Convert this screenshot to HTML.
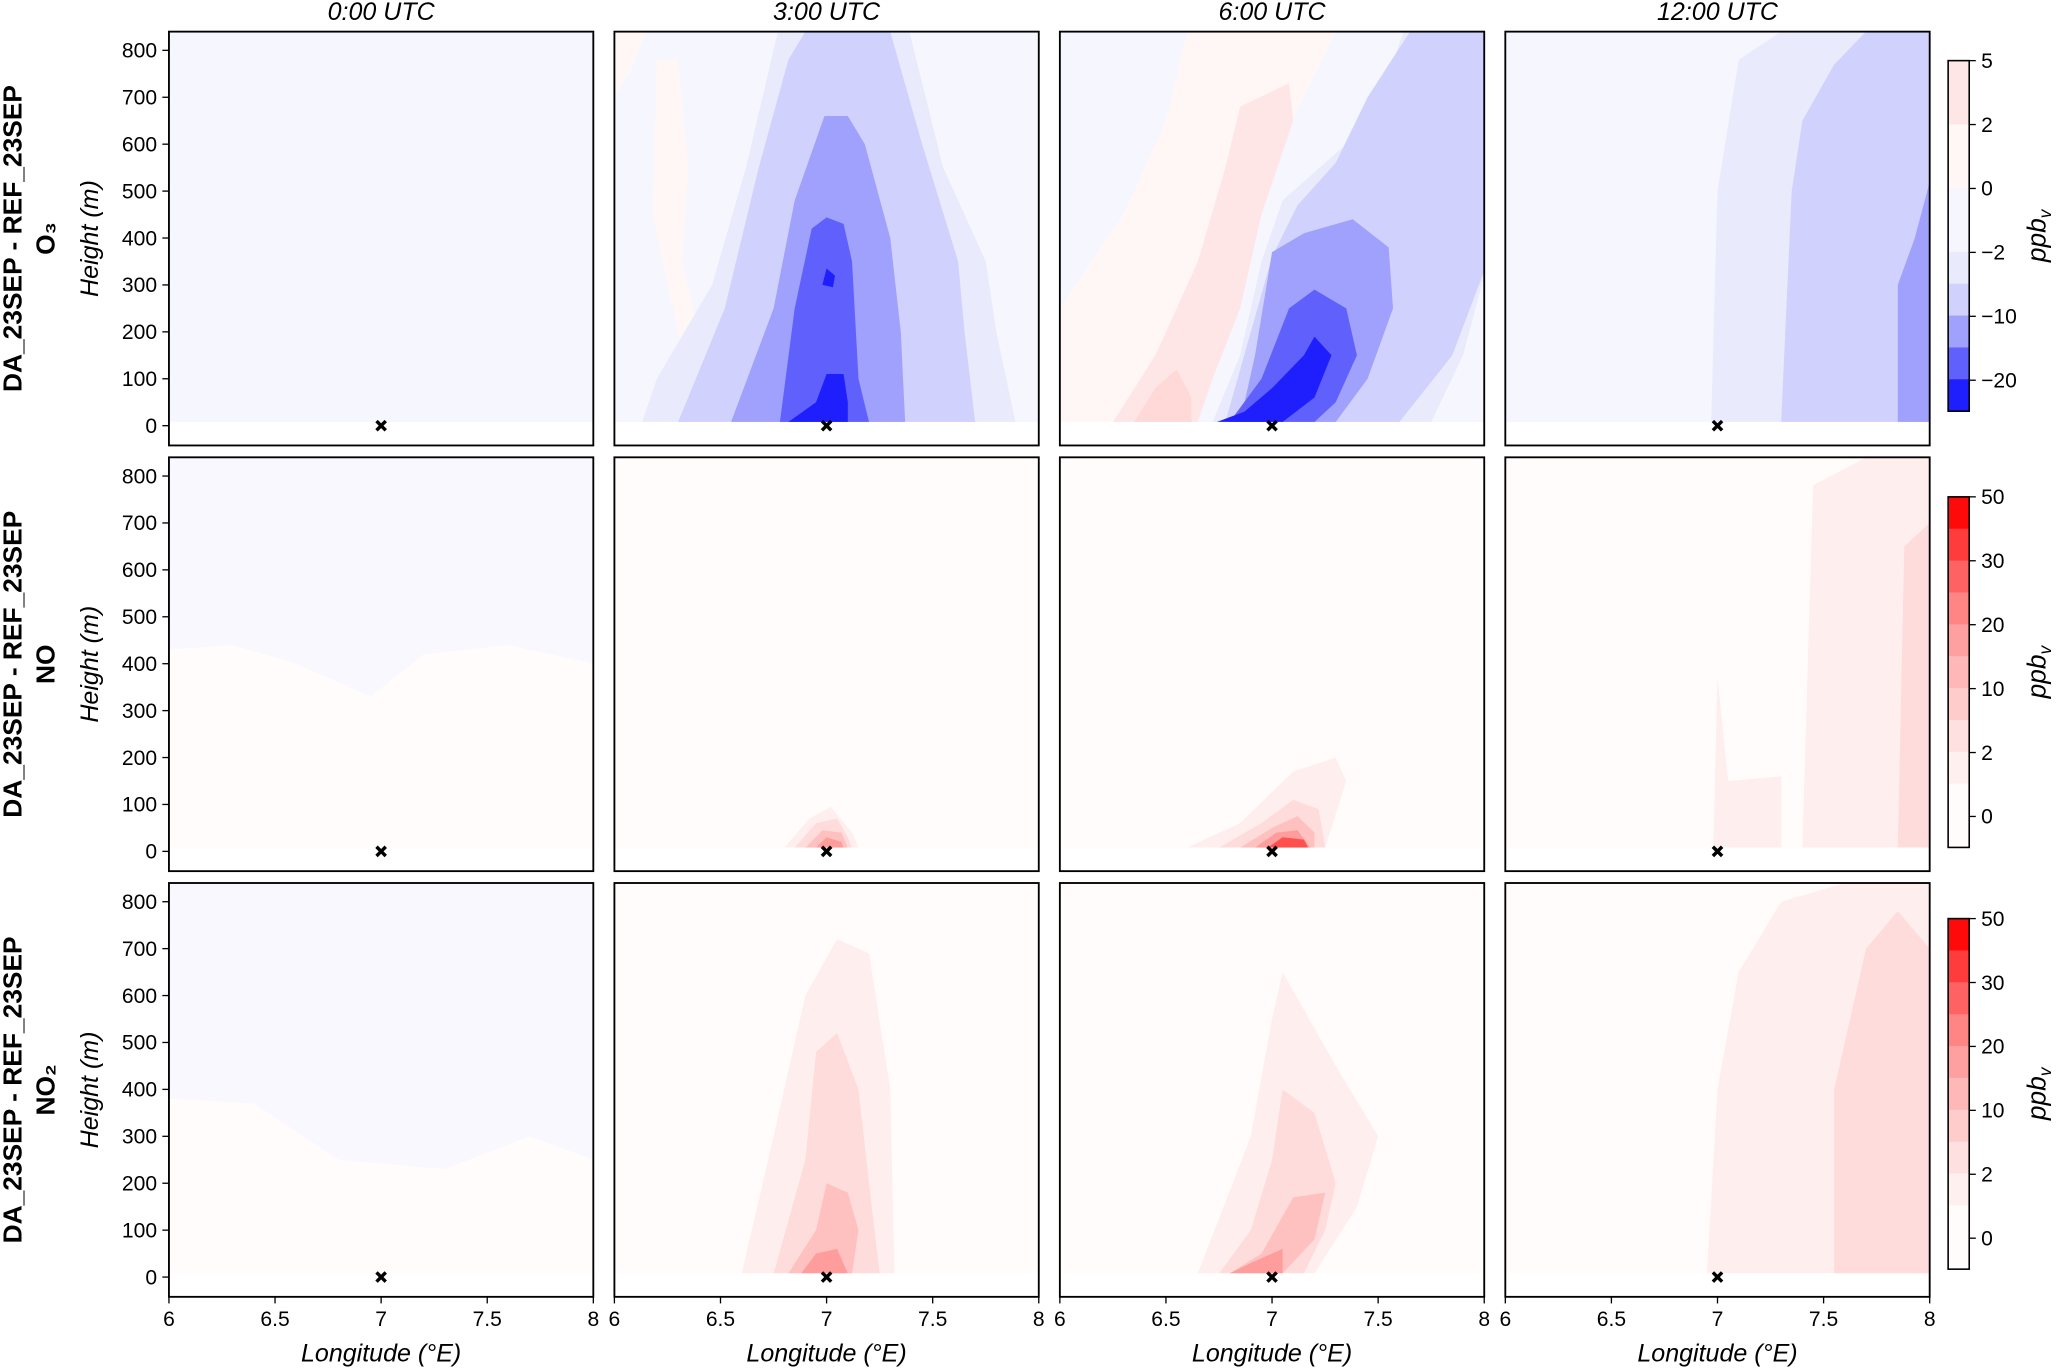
<!DOCTYPE html>
<html><head><meta charset="utf-8"><style>
html,body{margin:0;padding:0;background:#fff;}
svg{display:block;font-family:"Liberation Sans",sans-serif;}
</style></head><body>
<svg id="fig" width="2067" height="1368" viewBox="0 0 1568 1038" xmlns="http://www.w3.org/2000/svg"></svg>
<script>
// ---- data ----
const colTitles = ["0:00 UTC","3:00 UTC","6:00 UTC","12:00 UTC"];
const rowSpecies = ["O₃","NO","NO₂"];
const yTicks = [0,100,200,300,400,500,600,700,800];
const xTicks = [6,6.5,7,7.5,8];
const sitesLon = [7,7,7,7];
const blueColors = ["#f6f6fe","#eaeafd","#d1d1fd","#a0a0fd","#6060fd","#1f1ffd","#fff6f6","#ffe6e6","#ffd8d8"];
const redColors = ["#fffcfb","#ffeeee","#ffdcdc","#ffc0c0","#ff9c9c","#ff5050","#f8f8fe"];
const cb1Ticks = ["5","2","0","−2","−10","−20"];
const cb23Ticks = ["50","30","20","10","2","0"];
// contours per panel: [colorIndex, [[lon,height],...]]
const panels = [
 // row 0 (O3)
 [[], 
  [[6,[[6,840],[6,700],[6.08,760],[6.15,840]]],
   [6,[[6.2,780],[6.3,780],[6.35,550],[6.32,350],[6.45,100],[6.35,100],[6.25,300],[6.18,450]]],
   [1,[[6.13,8],[6.2,100],[6.46,300],[6.62,550],[6.77,840],[7.39,840],[7.55,550],[7.75,350],[7.8,200],[7.89,8]]],
   [2,[[6.3,8],[6.52,250],[6.68,550],[6.82,780],[6.9,840],[7.3,840],[7.45,600],[7.62,350],[7.65,200],[7.7,8]]],
   [3,[[6.55,8],[6.75,250],[6.85,480],[6.99,660],[7.1,660],[7.18,600],[7.3,400],[7.35,200],[7.37,8]]],
   [4,[[6.78,8],[6.85,250],[6.93,420],[7.0,444],[7.08,430],[7.12,350],[7.15,100],[7.2,8]]],
   [5,[[6.98,300],[7.03,295],[7.04,320],[7.0,335]]],
   [5,[[6.82,8],[6.95,50],[7.0,110],[7.08,110],[7.1,50],[7.1,8]]]],
  [[6,[[6,8],[6,250],[6.3,450],[6.5,650],[6.6,840],[7.3,840],[7.15,700],[7.0,560],[6.85,400],[6.75,200],[6.65,8]]],
   [0,[[6,330],[6,780],[6.15,810],[6.35,760],[6.35,650],[6.25,500],[6.1,380]]],
   [7,[[6.25,8],[6.45,150],[6.65,350],[6.78,550],[6.85,680],[7.08,730],[7.1,650],[6.95,450],[6.85,250],[6.72,100],[6.65,8]]],
   [8,[[6.35,8],[6.45,80],[6.55,120],[6.62,60],[6.62,8]]],
   [1,[[6.72,8],[6.85,150],[6.95,350],[7.05,480],[7.35,600],[7.55,750],[7.62,840],[8,840],[8,320],[7.9,150],[7.75,8]]],
   [2,[[6.78,8],[6.9,200],[7.0,360],[7.12,470],[7.3,560],[7.45,700],[7.65,840],[8,840],[8,330],[7.85,150],[7.6,8]]],
   [3,[[6.85,8],[6.92,150],[7.0,370],[7.15,410],[7.38,440],[7.55,380],[7.57,250],[7.45,100],[7.3,8]]],
   [4,[[6.8,8],[6.95,100],[7.08,250],[7.2,290],[7.35,250],[7.4,150],[7.3,50],[7.2,8]]],
   [5,[[6.74,8],[6.87,30],[7.0,80],[7.15,150],[7.2,190],[7.28,150],[7.2,60],[7.05,8]]]],
  [[1,[[6.97,8],[7.0,500],[7.1,780],[7.3,840],[8,840],[8,8]]],
   [2,[[7.3,8],[7.35,500],[7.4,650],[7.55,770],[7.7,840],[8,840],[8,8]]],
   [3,[[7.85,8],[7.85,300],[7.93,400],[8,520],[8,8]]]]],
 // row 1 (NO)
 [[[6,[[6,430],[6.3,440],[6.6,400],[6.95,330],[7.2,420],[7.6,440],[8,400],[8,840],[6,840]]]],
  [[1,[[6.8,8],[6.92,70],[7.02,95],[7.12,40],[7.15,8]]],
   [2,[[6.85,8],[6.95,60],[7.05,70],[7.1,30],[7.12,8]]],
   [3,[[6.9,8],[6.98,45],[7.07,40],[7.1,8]]],
   [4,[[6.95,8],[7.0,30],[7.07,20],[7.08,8]]]],
  [[1,[[6.6,8],[6.85,60],[7.1,170],[7.3,200],[7.35,150],[7.25,8]]],
   [2,[[6.75,8],[6.95,60],[7.1,110],[7.22,90],[7.25,8]]],
   [3,[[6.85,8],[7.0,50],[7.12,75],[7.2,40],[7.2,8]]],
   [4,[[6.92,8],[7.02,40],[7.12,45],[7.18,8]]],
   [5,[[6.98,8],[7.05,30],[7.15,25],[7.17,8]]]],
  [[1,[[6.98,8],[7.0,370],[7.05,150],[7.3,160],[7.3,8]]],
   [1,[[7.4,8],[7.45,780],[7.7,840],[8,840],[8,8]]],
   [2,[[7.85,8],[7.88,650],[8,700],[8,8]]]]],
 // row 2 (NO2)
 [[[6,[[6,380],[6.4,370],[6.8,250],[7.3,230],[7.7,300],[8,250],[8,840],[6,840]]]],
  [[1,[[6.6,8],[6.75,300],[6.9,600],[7.05,720],[7.2,690],[7.3,400],[7.32,8]]],
   [2,[[6.75,8],[6.9,250],[6.95,480],[7.05,520],[7.15,400],[7.2,200],[7.25,8]]],
   [3,[[6.82,8],[6.95,100],[7.0,200],[7.1,180],[7.15,100],[7.12,8]]],
   [4,[[6.88,8],[6.95,50],[7.05,60],[7.1,8]]]],
  [[1,[[6.65,8],[6.9,300],[7.0,550],[7.05,650],[7.3,450],[7.5,300],[7.4,150],[7.2,8]]],
   [2,[[6.75,8],[6.9,100],[7.0,250],[7.05,400],[7.2,350],[7.3,200],[7.25,100],[7.15,8]]],
   [3,[[6.8,8],[6.95,50],[7.1,170],[7.25,180],[7.2,80],[7.05,8]]],
   [4,[[6.8,8],[6.9,30],[7.05,60],[7.05,8]]]],
  [[1,[[6.95,8],[7.0,400],[7.1,650],[7.3,800],[7.6,840],[8,840],[8,8]]],
   [2,[[7.55,8],[7.55,400],[7.7,700],[7.85,780],[8,700],[8,8]]]]]
];
// ---- layout ----
const NS="http://www.w3.org/2000/svg";
const svg=document.getElementById('fig');
const colLeft=c=>128+338*c, rowTop=r=>[24,347,670][r];
const PW=322, PH=314;
const xScale=(c,lon)=>colLeft(c)+(lon-6)*(PW/2);
const yScale=(r,h)=>rowTop(r)+299-h*0.356;
function el(tag,attrs,parent){const e=document.createElementNS(NS,tag);for(const k in attrs)e.setAttribute(k,attrs[k]);(parent||svg).appendChild(e);return e;}
function txt(x,y,s,attrs){const t=el('text',Object.assign({x:x,y:y,fill:'#000'},attrs||{}));t.textContent=s;return t;}

for(let r=0;r<3;r++){
  const pal=r===0?blueColors:redColors;
  for(let c=0;c<4;c++){
    const g=el('g',{});
    
    
    const cp=el('clipPath',{id:'cp'+r+c},g);
    el('rect',{x:colLeft(c),y:yScale(r,840),width:PW,height:yScale(r,8)-yScale(r,840)},cp);
    const bg=el('rect',{x:colLeft(c),y:yScale(r,840),width:PW,height:yScale(r,8)-yScale(r,840),fill:pal[0]},g);
    
    
    panels[r][c].forEach(([ci,pts])=>{
      const p=el('polygon',{points:pts.map(([lo,h])=>xScale(c,lo).toFixed(1)+','+yScale(r,h).toFixed(1)).join(' '),fill:pal[ci],'clip-path':'url(#cp'+r+c+')'},g);
      
      
    });
    const mx=xScale(c,sitesLon[c]), my=yScale(r,0);
    const m=el('path',{d:`M${mx-3.5},${my-3.5}L${mx+3.5},${my+3.5}M${mx+3.5},${my-3.5}L${mx-3.5},${my+3.5}`,stroke:'#000','stroke-width':2.6},g);
    
    
    const fr=el('rect',{x:colLeft(c),y:rowTop(r),width:PW,height:PH,fill:'none',stroke:'#000','stroke-width':1.4},g);
    
    
    if(c===0){
      yTicks.forEach(v=>{const y=yScale(r,v);el('line',{x1:colLeft(0)-5,x2:colLeft(0),y1:y,y2:y,stroke:'#000'});
        const t=txt(colLeft(0)-9,y+5.5,String(v),{'font-size':16,'text-anchor':'end'});
        
        });
      const yl=txt(0,0,'Height (m)',{'font-size':19,'font-style':'italic','text-anchor':'middle',transform:`translate(74,${rowTop(r)+157}) rotate(-90)`});
      
      
      const rl=el('text',{'font-size':20,'font-weight':'bold','text-anchor':'middle',transform:`translate(16,${rowTop(r)+157}) rotate(-90)`});
      
      
      rl.textContent='DA_23SEP - REF_23SEP';
      const sp=el('text',{'font-size':20,'font-weight':'bold','text-anchor':'middle',transform:`translate(41,${rowTop(r)+157}) rotate(-90)`});
      
      
      sp.textContent=rowSpecies[r];
    }
    if(r===2){
      xTicks.forEach(v=>{const x=xScale(c,v);el('line',{x1:x,x2:x,y1:rowTop(2)+PH,y2:rowTop(2)+PH+5,stroke:'#000'});
        const t=txt(x,rowTop(2)+PH+22,String(v),{'font-size':16,'text-anchor':'middle'});
        
        });
      const xl=txt(colLeft(c)+PW/2,1033,'Longitude (°E)',{'font-size':19,'font-style':'italic','text-anchor':'middle'});
      
      
    }
    if(r===0){
      const ct=txt(colLeft(c)+PW/2,15,colTitles[c],{'font-size':19,'font-style':'italic','text-anchor':'middle'});
      
      
    }
  }
}
// ---- colorbars ----
const cbTop=[46,377,697], cbX=1478, cbW=16, cbH=266;
const cb1Bands=["#ffe6e6","#ffe6e6","#fff6f6","#fff6f6","#f6f6fe","#f6f6fe","#eaeafd","#d1d1fd","#a0a0fd","#6060fd","#1f1ffd"];
const cbRBands=["#ff0a0a","#ff3c3c","#ff6262","#ff8484","#ffa0a0","#ffb8b8","#ffcccc","#ffe0e0","#fff0f0","#fffcfb","#fffcfb"];
for(let r=0;r<3;r++){
  const g=el('g',{});
  
  
  const bands=r===0?cb1Bands:cbRBands;
  const bh=cbH/bands.length;
  bands.forEach((col,i)=>el('rect',{x:cbX,y:cbTop[r]+i*bh,width:cbW,height:bh+0.5,fill:col},g));
  el('rect',{x:cbX,y:cbTop[r],width:cbW,height:cbH,fill:'none',stroke:'#000','stroke-width':1.2},g);
  const ticks=r===0?cb1Ticks:cb23Ticks;
  ticks.forEach((s,i)=>{const y=cbTop[r]+i*48.5;
    el('line',{x1:cbX+cbW,x2:cbX+cbW+5,y1:y,y2:y,stroke:'#000'},g);
    const t=txt(cbX+cbW+9,y+5.5,s,{'font-size':16});
    
    
    g.appendChild(t);});
  const u=el('text',{'font-size':20,'font-style':'italic','text-anchor':'middle',transform:`translate(1552,${cbTop[r]+cbH/2}) rotate(-90)`},g);
  
  
  u.innerHTML='ppb<tspan font-size="13" dy="4">v</tspan>';
}
</script>
</body></html>
